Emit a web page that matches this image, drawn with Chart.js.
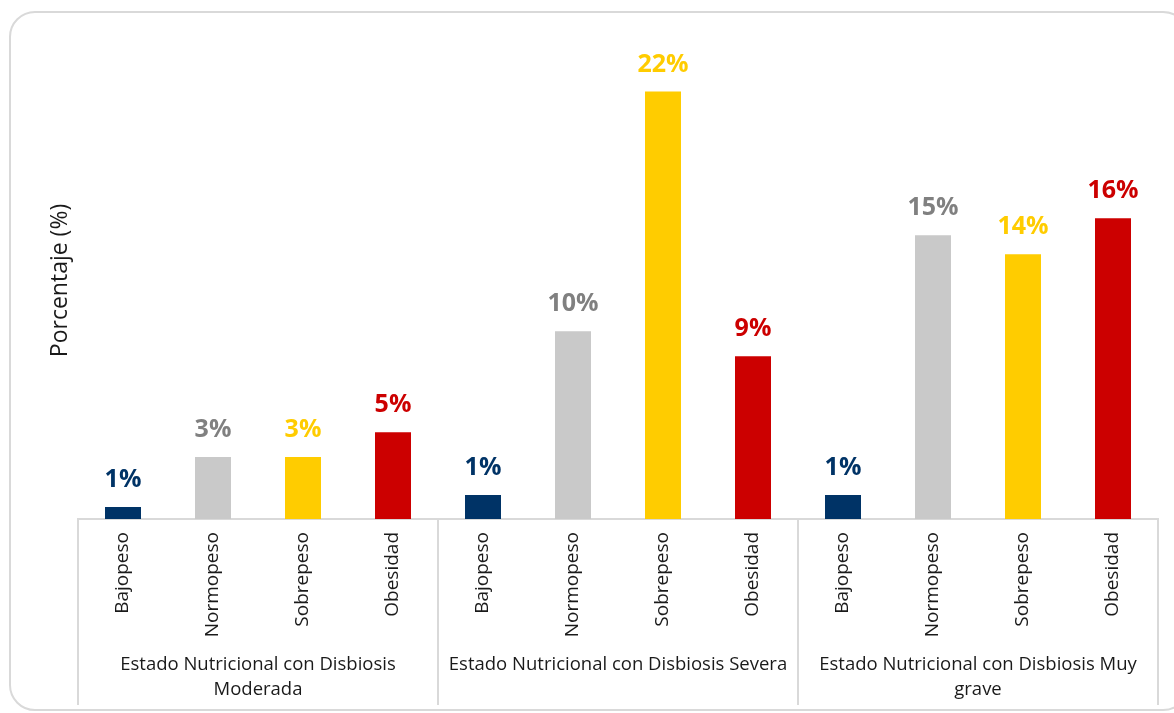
<!DOCTYPE html>
<html>
<head>
<meta charset="utf-8">
<script src="https://cdn.jsdelivr.net/npm/chart.js@4.4.1/dist/chart.umd.min.js"></script>
<style>
  html, body { margin: 0; padding: 0; background: #fff; }
  #wrap { position: relative; width: 1174px; height: 713px; overflow: hidden; }
  #frame { position: absolute; left: 9px; top: 11px; width: 1180px; height: 700px;
           border: 2px solid #d9d9d9; border-radius: 26px; box-sizing: border-box; }
  #c { position: absolute; left: 0; top: 0; }
</style>
</head>
<body>
<div id="wrap">
  <div id="frame"></div>
  <canvas id="c" width="1174" height="713"></canvas>
</div>
<script>
// ---- data ----
const categories = ["Bajopeso", "Normopeso", "Sobrepeso", "Obesidad"];
const groups = [
  ["Estado Nutricional con Disbiosis", "Moderada"],
  ["Estado Nutricional con Disbiosis Severa"],
  ["Estado Nutricional con Disbiosis Muy", "grave"]
];
const moderada = [0.63, 3.25, 3.25, 4.55];
const severa   = [1.26, 9.84, 22.4, 8.53];
const muyGrave = [1.26, 14.87, 13.87, 15.76];
const barColors   = ["#003366", "#C9C9C9", "#FFCC00", "#CC0000"];
const labelColors = ["#003366", "#808080", "#FFCC00", "#CC0000"];
const yTitle = "Porcentaje (%)";

// ---- build ----
const labels = [], values = [], colors = [], lblColors = [];
[moderada, severa, muyGrave].forEach(arr => {
  arr.forEach((v, i) => {
    labels.push(categories[i]);
    values.push(v);
    colors.push(barColors[i]);
    lblColors.push(labelColors[i]);
  });
});

const FONT = "'Open Sans', 'Noto Sans', sans-serif";

const overlay = {
  id: 'overlay',
  afterDatasetsDraw(chart) {
    const ctx = chart.ctx;
    const meta = chart.getDatasetMeta(0);
    // value labels
    ctx.save();
    ctx.font = "bold 25px " + FONT;
    ctx.textAlign = 'center';
    ctx.textBaseline = 'alphabetic';
    meta.data.forEach((bar, i) => {
      ctx.fillStyle = lblColors[i];
      ctx.fillText(Math.round(values[i]) + '%', bar.x, bar.y - 20);
    });
    ctx.restore();

    // group dividers and labels
    const x = chart.scales.x;
    const bottomY = chart.chartArea.bottom;
    const n = categories.length;
    const step = x.getPixelForValue(1) - x.getPixelForValue(0);
    ctx.save();
    ctx.strokeStyle = '#d9d9d9';
    ctx.lineWidth = 2;
    for (let g = 0; g <= groups.length; g++) {
      const px = Math.round(x.getPixelForValue(g * n) - step / 2);
      ctx.beginPath();
      ctx.moveTo(px, bottomY);
      ctx.lineTo(px, 705);
      ctx.stroke();
    }
    ctx.font = "18.5px " + FONT;
    ctx.fillStyle = '#1a1a1a';
    ctx.textAlign = 'center';
    ctx.textBaseline = 'middle';
    groups.forEach((lines, g) => {
      const cx = (x.getPixelForValue(g * n) + x.getPixelForValue(g * n + n - 1)) / 2;
      lines.forEach((t, k) => ctx.fillText(t, cx, 665 + k * 25));
    });
    ctx.restore();
  }
};

new Chart(document.getElementById('c'), {
  type: 'bar',
  data: {
    labels: labels,
    datasets: [{
      data: values,
      backgroundColor: colors,
      borderWidth: 0,
      categoryPercentage: 1,
      barPercentage: 0.4
    }]
  },
  options: {
    responsive: false,
    animation: false,
    layout: { padding: { top: 42, right: 16, bottom: 0, left: 0 } },
    plugins: { legend: { display: false }, tooltip: { enabled: false } },
    scales: {
      x: {
        grid: { display: false, drawTicks: false },
        border: { display: true, color: '#d9d9d9', width: 2 },
        ticks: {
          autoSkip: false,
          minRotation: 90,
          maxRotation: 90,
          padding: 13,
          color: '#1a1a1a',
          font: { family: FONT, size: 19 }
        },
        afterFit(scale) { scale.height = 194; }
      },
      y: {
        min: 0,
        max: 25,
        grid: { display: false, drawTicks: false },
        border: { display: false },
        ticks: { display: false },
        title: {
          display: true,
          text: yTitle,
          color: '#1a1a1a',
          font: { family: FONT, size: 23 },
          padding: { top: 47, bottom: 0 }
        },
        afterFit(scale) { scale.width = 78; }
      }
    }
  },
  plugins: [overlay]
});
</script>
</body>
</html>
